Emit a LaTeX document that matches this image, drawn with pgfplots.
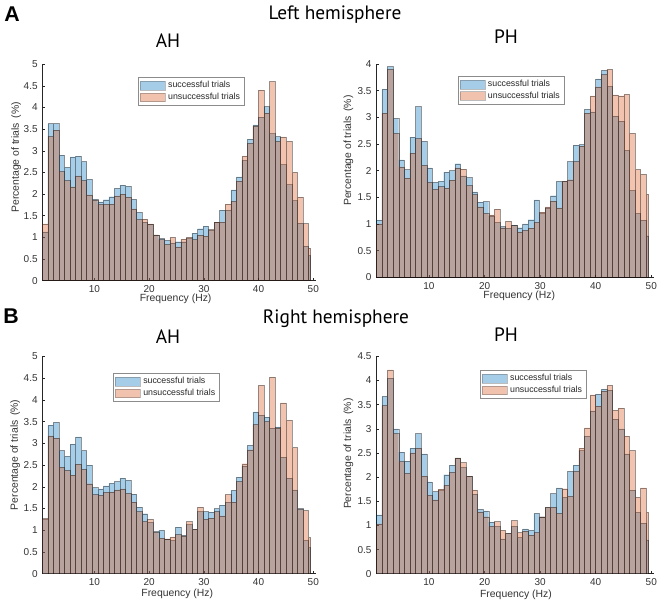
\documentclass[border=0pt]{standalone}
\usepackage{fontspec}
\setmainfont{Liberation Sans}
\newfontfamily\titlefont{PT Sans}
\usepackage{pgfplots}
\pgfplotsset{compat=1.18}
\usepackage{pgfplotstable}
\definecolor{mblue}{RGB}{0,114,189}
\definecolor{morange}{RGB}{217,83,25}

% k = bin index, b = successful trials, o = unsuccessful trials (row 50 = closing edge)
\pgfplotstableread{
k b o
1 1.13 1.31
2 3.63 3.33
3 3.63 3.48
4 2.90 2.52
5 2.62 2.31
6 2.86 2.17
7 2.88 2.42
8 2.75 2.31
9 2.34 1.98
10 1.88 1.86
11 1.82 1.76
12 1.87 1.76
13 1.94 1.77
14 2.13 1.96
15 2.21 2.00
16 2.18 1.93
17 1.88 1.66
18 1.58 1.41
19 1.35 1.42
20 1.30 1.31
21 1.06 1.06
22 0.97 0.95
23 0.93 0.84
24 0.87 1.00
25 0.90 0.78
26 0.90 0.96
27 0.98 1.00
28 1.10 0.95
29 1.20 1.05
30 1.26 1.03
31 1.17 1.18
32 1.35 1.35
33 1.63 1.35
34 1.63 1.77
35 2.10 1.83
36 2.40 2.30
37 2.78 2.88
38 3.27 3.17
39 3.60 3.57
40 3.78 4.40
41 4.02 3.87
42 3.40 4.60
43 3.33 3.22
44 2.68 3.32
45 2.22 3.22
46 1.85 2.50
47 1.33 1.93
48 0.80 1.32
49 0.58 0.75
50 0 0
}\dataAAH

\pgfplotstableread{
k b o
1 1.07 1.00
2 3.53 3.08
3 3.95 3.90
4 2.98 2.70
5 2.20 2.07
6 2.02 1.86
7 2.63 2.33
8 3.20 2.60
9 2.55 2.10
10 2.05 1.78
11 1.78 1.65
12 1.80 1.70
13 1.97 1.67
14 2.00 1.82
15 2.13 2.05
16 1.90 2.03
17 1.87 1.72
18 1.60 1.55
19 1.41 1.32
20 1.42 1.20
21 1.15 1.17
22 1.03 1.28
23 0.95 0.93
24 0.92 1.05
25 0.98 0.97
26 0.93 0.85
27 1.00 0.88
28 1.08 0.92
29 1.45 1.03
30 1.20 1.22
31 1.30 1.32
32 1.53 1.43
33 1.80 1.30
34 1.80 1.80
35 2.17 1.83
36 2.48 2.17
37 2.49 2.46
38 3.15 3.08
39 3.10 3.40
40 3.72 3.57
41 3.88 3.80
42 3.58 3.90
43 3.02 3.42
44 2.93 3.40
45 2.38 3.43
46 1.63 2.70
47 1.20 2.02
48 1.07 1.93
49 0.78 1.56
50 0 0
}\dataAPH

\pgfplotstableread{
k b o
1 1.25 1.27
2 3.42 3.17
3 3.48 3.12
4 2.83 2.45
5 2.70 2.38
6 2.98 2.27
7 3.15 2.52
8 2.83 2.40
9 2.50 2.07
10 1.98 1.82
11 1.95 1.80
12 2.02 1.87
13 2.08 1.88
14 2.12 1.93
15 2.20 1.95
16 2.15 1.85
17 1.83 1.65
18 1.53 1.43
19 1.38 1.20
20 1.18 1.25
21 0.97 0.95
22 1.00 0.82
23 0.80 0.80
24 0.77 0.85
25 1.07 0.90
26 0.88 0.87
27 1.13 1.20
28 1.02 1.02
29 1.43 1.53
30 1.43 1.25
31 1.42 1.28
32 1.50 1.43
33 1.58 1.33
34 1.65 1.82
35 1.92 1.65
36 2.22 2.12
37 2.48 2.53
38 2.95 2.85
39 3.72 3.43
40 3.65 4.33
41 3.60 3.50
42 3.35 4.52
43 3.38 3.35
44 2.68 3.93
45 2.20 3.53
46 1.93 2.90
47 1.50 1.48
48 0.77 1.45
49 0.60 0.83
50 0 0
}\dataBAH

\pgfplotstableread{
k b o
1 1.22 1.03
2 3.67 3.48
3 4.05 4.22
4 3.00 2.90
5 2.52 2.32
6 2.33 2.08
7 2.60 2.50
8 2.90 2.60
9 2.48 2.02
10 1.90 1.62
11 1.70 1.53
12 1.72 1.75
13 2.05 1.83
14 2.25 2.10
15 2.40 2.40
16 2.20 2.30
17 2.02 2.02
18 1.65 1.73
19 1.33 1.28
20 1.30 1.18
21 1.07 0.98
22 0.98 1.08
23 0.72 0.90
24 0.83 0.83
25 0.98 1.10
26 0.75 0.85
27 0.93 0.88
28 0.90 0.80
29 1.25 0.85
30 1.18 1.18
31 1.37 1.37
32 1.66 1.38
33 1.78 1.25
34 1.58 1.76
35 2.12 1.60
36 2.25 2.12
37 2.55 2.60
38 2.85 3.02
39 3.37 3.70
40 3.72 3.47
41 3.82 3.78
42 3.80 3.90
43 3.20 3.38
44 3.00 3.43
45 2.48 2.85
46 1.73 2.55
47 1.27 1.58
48 1.05 1.78
49 0.70 1.27
50 0 0
}\dataBPH

\pgfplotsset{
  histax/.style={
    scale only axis,
    anchor=south west,
    xmin=0.5, xmax=50.5, ymin=0,
    axis x line*=bottom, axis y line*=left,
    axis line style={black!85, line width=0.5pt},
    xtick={10,20,30,40,50},
    ytick distance=0.5,
    tick align=inside,
    major tick length=2pt,
    tick style={black!85, line width=0.4pt},
    ticklabel style={font=\fontsize{7.5}{8}\selectfont, text=black!80},
    /pgf/number format/assume math mode=true,
    /pgf/number format/fixed,
    xlabel={Frequency (Hz)},
    ylabel={Percentage of trials\hspace{0.45em}(\%)},
    label style={font=\fontsize{7.8}{9}\selectfont, text=black!80},
    legend style={draw=black!45, fill=white, line width=0.4pt,
      font=\fontsize{6.6}{7.5}\selectfont, inner sep=1pt, row sep=-1.5pt,
      anchor=north west, text=black!85},
    legend cell align=left,
  },
  hb/.style={ybar interval, fill=mblue, fill opacity=0.35, draw=black,
    draw opacity=0.4, line width=0.3pt,
    legend image code/.code={\draw[fill=mblue, fill opacity=0.35, draw=black!65, line width=0.35pt] (0pt,-3.3pt) rectangle (19pt,3.3pt);}},
  ho/.style={ybar interval, fill=morange, fill opacity=0.35, draw=black,
    draw opacity=0.4, line width=0.3pt,
    legend image code/.code={\draw[fill=morange, fill opacity=0.35, draw=black!65, line width=0.35pt] (0pt,-3.3pt) rectangle (19pt,3.3pt);}},
}

\begin{document}
\begin{tikzpicture}

% ---------- A : Left hemisphere ----------
\begin{axis}[histax, at={(31.73pt,-210.5pt)}, width=205.3pt, height=162.3pt, ymax=5,
  legend style={at={(0.35,0.941)}},
  ylabel style={at={(axis description cs:-0.095,0.57)}, anchor=center},
  xlabel style={at={(axis description cs:0.487,-0.082)}, anchor=center}]
\addplot[hb] table[x expr={min(0.5+(\thisrow{k}-1)*1.0125,49.5)}, y=b] {\dataAAH};
\addplot[ho] table[x expr={min(0.5+(\thisrow{k}-1)*1.0125,49.5)}, y=o] {\dataAAH};
\legend{successful trials, unsuccessful trials}
\end{axis}

\begin{axis}[histax, at={(282.15pt,-207.98pt)}, width=208.4pt, height=160pt, ymax=4,
  legend style={at={(0.294,0.944)}},
  ylabel style={at={(axis description cs:-0.1,0.594)}, anchor=center},
  xlabel style={at={(axis description cs:0.515,-0.088)}, anchor=center}]
\addplot[hb] table[x expr={min(0.5+(\thisrow{k}-1)*1.0125,49.5)}, y=b] {\dataAPH};
\addplot[ho] table[x expr={min(0.5+(\thisrow{k}-1)*1.0125,49.5)}, y=o] {\dataAPH};
\legend{successful trials, unsuccessful trials}
\end{axis}

% ---------- B : Right hemisphere ----------
\begin{axis}[histax, at={(31.73pt,-430.3pt)}, width=205.3pt, height=163.05pt, ymax=5,
  legend style={at={(0.259,0.923)}},
  ylabel style={at={(axis description cs:-0.099,0.547)}, anchor=center},
  xlabel style={at={(axis description cs:0.493,-0.093)}, anchor=center}]
\addplot[hb] table[x expr={min(0.5+(\thisrow{k}-1)*1.0125,49.5)}, y=b] {\dataBAH};
\addplot[ho] table[x expr={min(0.5+(\thisrow{k}-1)*1.0125,49.5)}, y=o] {\dataBAH};
\legend{successful trials, unsuccessful trials}
\end{axis}

\begin{axis}[histax, at={(282.15pt,-430.3pt)}, width=208.4pt, height=163.05pt, ymax=4.5,
  legend style={at={(0.374,0.937)}},
  ylabel style={at={(axis description cs:-0.1,0.552)}, anchor=center},
  xlabel style={at={(axis description cs:0.503,-0.098)}, anchor=center}]
\addplot[hb] table[x expr={min(0.5+(\thisrow{k}-1)*1.0125,49.5)}, y=b] {\dataBPH};
\addplot[ho] table[x expr={min(0.5+(\thisrow{k}-1)*1.0125,49.5)}, y=o] {\dataBPH};
\legend{successful trials, unsuccessful trials}
\end{axis}

% ---------- headings ----------
\node[anchor=base, font=\fontsize{16}{18}\selectfont\bfseries] at (9pt,-16.5pt) {A};
\node[anchor=base, font=\titlefont\fontsize{14.5}{17}\selectfont] at (251.25pt,-15pt) {Left hemisphere};
\node[anchor=base, font=\titlefont\fontsize{14.5}{17}\selectfont] at (126pt,-36pt) {AH};
\node[anchor=base, font=\titlefont\fontsize{14.5}{17}\selectfont] at (379.5pt,-33pt) {PH};

\node[anchor=base, font=\fontsize{16}{18}\selectfont\bfseries] at (8.25pt,-242.25pt) {B};
\node[anchor=base, font=\titlefont\fontsize{14.5}{17}\selectfont] at (252pt,-242.25pt) {Right hemisphere};
\node[anchor=base, font=\titlefont\fontsize{14.5}{17}\selectfont] at (126pt,-257.25pt) {AH};
\node[anchor=base, font=\titlefont\fontsize{14.5}{17}\selectfont] at (379.5pt,-255.75pt) {PH};

\pgfresetboundingbox
\path[use as bounding box] (0pt,0pt) rectangle (499.5pt,-454.5pt);
\end{tikzpicture}
\end{document}
